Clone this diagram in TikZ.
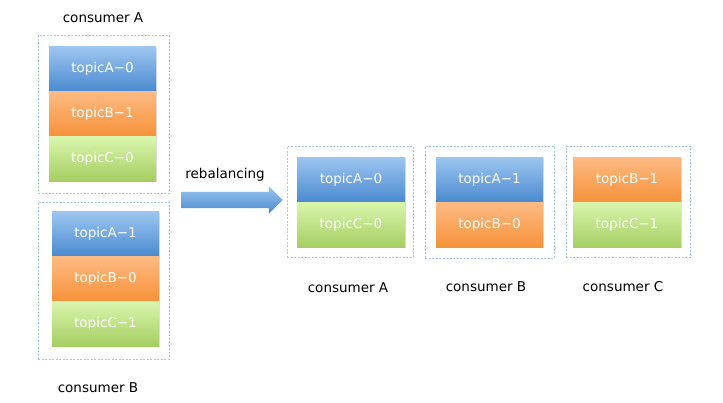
\documentclass[tikz,border=0pt]{standalone}
\usepackage{fontspec}
\setmainfont{DejaVu Sans}
\usetikzlibrary{shapes.arrows,shadows}
\definecolor{bT}{HTML}{9DC6F0}\definecolor{bB}{HTML}{4A8AD0}
\definecolor{oT}{HTML}{FDBB84}\definecolor{oB}{HTML}{F7923A}
\definecolor{gT}{HTML}{DAF6AE}\definecolor{gB}{HTML}{A5CE62}
\definecolor{dashc}{HTML}{A9C8E6}
\tikzset{
  blk/.style={inner sep=0pt, minimum width=107pt, minimum height=45pt, text=white,
    font=\fontsize{13.5}{16}\selectfont,
    drop shadow={opacity=0.25, shadow xshift=0.6pt, shadow yshift=-1pt}},
  bl/.style={blk, top color=bT, bottom color=bB},
  or/.style={blk, top color=oT, bottom color=oB},
  gr/.style={blk, top color=gT, bottom color=gB},
  grp/.style={draw=dashc, line width=1pt, dash pattern=on 2pt off 1.5pt, inner sep=0pt},
  lbl/.style={font=\fontsize{13.5}{16}\selectfont, text=black},
}
\begin{document}
\begin{tikzpicture}[x=1pt,y=-1pt]
\useasboundingbox[fill=white] (0,0) rectangle (723,402);
% left consumer A
\node[grp, minimum width=131pt, minimum height=158pt] (gA) at (103.5,114) {};
\node[bl] (la0) at (102.5,69) {topicA−0};
\node[or] (lb1) at (102.5,113.5) {topicB−1};
\node[gr] (lc0) at (102.5,158.5) {topicC−0};
\node[lbl] (tA) at (103,18) {consumer A};
% left consumer B
\node[grp, minimum width=131pt, minimum height=157pt] (gB) at (103.5,280.5) {};
\node[bl] (la1) at (105.5,234) {topicA−1};
\node[or] (lb0) at (105.5,278.5) {topicB−0};
\node[gr] (lc1) at (105.5,323.5) {topicC−1};
\node[lbl] (tB) at (98,388) {consumer B};
% arrow
\node[single arrow, minimum height=101pt, single arrow head extend=5.5pt,
  inner xsep=0pt, inner ysep=8pt, text height=0pt, text depth=0pt, text width=0pt,
  top color=bT, bottom color=bB] (arr) at (228,200) {};
\node[lbl] (reb) at (225,175) {rebalancing};
% right consumer A
\node[grp, minimum width=126pt, minimum height=111pt] (rgA) at (350,201.5) {};
\node[bl, minimum width=108pt] (ra0) at (351,179.5) {topicA−0};
\node[gr, minimum width=108pt] (rc0) at (351,224.5) {topicC−0};
\node[lbl] (rtA) at (348,288) {consumer A};
% right consumer B
\node[grp, minimum width=129pt, minimum height=112pt] (rgB) at (489.5,202) {};
\node[bl] (ra1) at (489.5,179.5) {topicA−1};
\node[or] (rb0) at (489.5,224.5) {topicB−0};
\node[lbl] (rtB) at (486,287) {consumer B};
% right consumer C
\node[grp, minimum width=124pt, minimum height=111pt] (rgC) at (628,201.5) {};
\node[or, minimum width=108pt] (rb1) at (627,179.5) {topicB−1};
\node[gr, minimum width=108pt] (rc1) at (627,224.5) {topicC−1};
\node[lbl] (rtC) at (623,287) {consumer C};
\end{tikzpicture}
\end{document}
